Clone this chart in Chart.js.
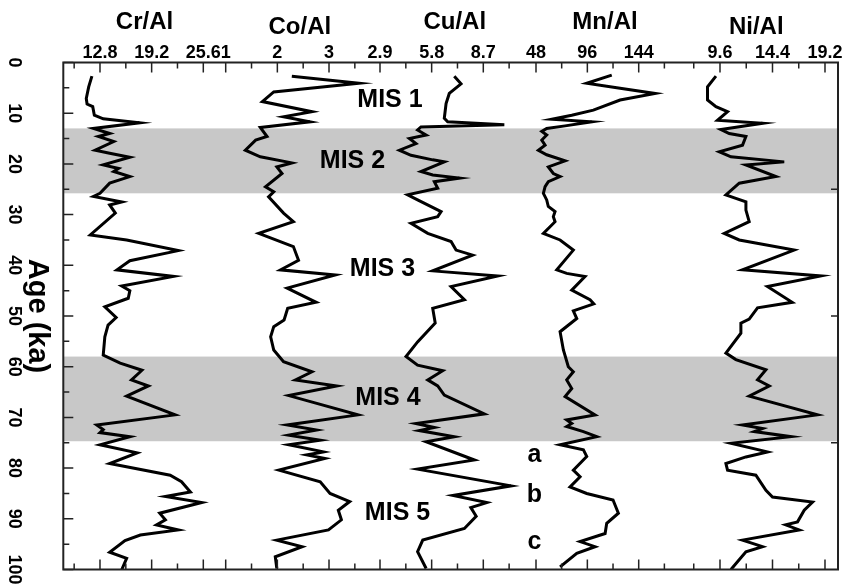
<!DOCTYPE html>
<html>
<head>
<meta charset="utf-8">
<script src="https://cdn.jsdelivr.net/npm/chart.js@4.4.1/dist/chart.umd.min.js"></script>
<style>
  html, body { margin: 0; padding: 0; background: #fff; }
  #wrap { width: 844px; height: 588px; position: relative; }
</style>
</head>
<body>
<div id="wrap"><canvas id="profileChart"></canvas></div>
<script>
const FONT = '"Liberation Sans", Arial, sans-serif';

// element ratios, one profile each
const elements = ['Cr/Al', 'Co/Al', 'Cu/Al', 'Mn/Al', 'Ni/Al'];

const crAge = [2.7, 4.8, 7.1, 8.2, 8.7, 10.4, 11.1, 11.9, 13.0, 14.0, 14.6, 15.6, 17.3, 17.9, 18.7, 20.2, 20.9, 21.5, 22.5, 23.8, 25.8, 26.4, 27.5, 28.1, 29.7, 34.0, 35.0, 37.1, 39.1, 40.9, 42.2, 44.1, 45.0, 46.5, 48.2, 50.3, 51.8, 54.1, 57.7, 59.3, 60.7, 62.6, 63.8, 65.8, 69.5, 71.5, 72.4, 73.0, 73.8, 75.4, 77.0, 79.1, 81.4, 82.7, 84.7, 85.6, 86.8, 88.9, 90.2, 91.2, 92.2, 93.2, 94.3, 96.6, 97.8, 100];
const crVal = [11.8, 11.4, 11.1, 11.2, 11.9, 12.1, 13.2, 17.7, 12.0, 14.0, 12.6, 14.5, 12.2, 14.0, 16.5, 13.2, 15.1, 14.5, 16.5, 14.0, 12.8, 12.0, 15.5, 14.0, 14.7, 11.6, 16.1, 22.5, 16.5, 14.9, 21.9, 15.5, 16.5, 16.3, 13.4, 14.8, 13.8, 13.4, 13.2, 15.3, 18.0, 16.7, 18.8, 16.1, 22.1, 12.4, 13.2, 12.8, 16.5, 12.8, 17.4, 14.0, 21.5, 22.9, 24.0, 20.9, 25.4, 20.2, 20.9, 19.8, 22.5, 17.8, 15.9, 14.0, 16.1, 15.5];

const coAge = [2.7, 4.1, 5.8, 7.7, 9.7, 10.7, 11.7, 12.8, 14.6, 15.3, 17.3, 18.6, 19.8, 20.6, 21.9, 24.5, 25.5, 26.5, 29.7, 31.4, 33.7, 36.3, 39.0, 40.9, 41.9, 44.5, 47.3, 48.5, 50.8, 52.1, 54.1, 56.7, 59.0, 61.0, 62.6, 63.8, 65.7, 69.5, 71.5, 72.5, 73.5, 74.5, 75.4, 76.8, 77.4, 78.1, 80.4, 82.7, 85.0, 86.6, 88.3, 90.2, 92.2, 94.2, 95.5, 97.5, 99.8];
const coVal = [2.28, 3.58, 1.93, 1.71, 2.67, 2.12, 2.63, 1.67, 1.80, 1.58, 1.38, 1.67, 2.28, 1.99, 2.09, 1.77, 1.93, 1.83, 2.12, 2.31, 1.64, 2.31, 2.41, 2.06, 3.12, 2.19, 2.75, 2.20, 2.13, 1.93, 1.87, 1.93, 2.12, 2.67, 2.35, 3.15, 2.22, 3.56, 2.19, 2.76, 2.22, 2.83, 2.22, 2.89, 2.57, 2.92, 2.03, 2.83, 3.02, 3.40, 3.18, 3.24, 2.99, 1.99, 2.48, 1.96, 1.99];

const cuAge = [2.7, 4.2, 6.1, 8.1, 11.0, 11.7, 12.3, 12.7, 13.3, 14.3, 15.0, 16.0, 17.3, 18.3, 19.2, 19.6, 21.5, 22.2, 22.8, 23.5, 24.8, 26.1, 27.1, 29.4, 30.4, 31.7, 33.7, 35.3, 37.0, 38.0, 41.1, 42.1, 44.2, 46.8, 48.5, 51.4, 55.1, 58.0, 59.7, 60.8, 62.6, 63.8, 65.6, 69.3, 71.2, 72.0, 72.6, 73.8, 74.8, 78.4, 80.2, 83.5, 85.4, 86.8, 87.8, 89.5, 91.9, 94.2, 96.5, 99.8];
const cuVal = [7.07, 7.45, 6.79, 6.61, 6.51, 6.70, 9.88, 5.20, 5.01, 5.49, 4.55, 4.92, 3.99, 4.64, 5.86, 6.51, 5.20, 5.86, 7.36, 5.95, 6.14, 4.45, 5.01, 6.33, 6.14, 4.64, 5.58, 6.89, 7.17, 8.10, 5.86, 9.51, 6.89, 7.64, 5.86, 6.00, 5.01, 4.36, 5.01, 6.42, 5.58, 6.14, 6.51, 8.76, 4.92, 5.95, 5.11, 7.07, 5.49, 8.20, 5.01, 10.26, 7.00, 8.90, 8.00, 8.30, 7.64, 5.30, 5.01, 5.49];

const mnAge = [2.5, 4.1, 5.1, 6.1, 7.4, 9.4, 10.4, 11.2, 11.7, 12.5, 13.0, 13.6, 14.3, 15.3, 16.3, 17.3, 18.2, 19.4, 20.6, 21.9, 22.5, 23.5, 24.5, 25.8, 27.1, 28.4, 29.4, 30.4, 31.4, 33.7, 35.0, 37.0, 40.9, 41.6, 42.2, 44.9, 46.8, 47.6, 49.0, 50.5, 53.1, 56.7, 60.0, 61.0, 62.6, 64.3, 65.9, 69.5, 70.5, 71.2, 71.8, 72.8, 73.8, 75.4, 76.4, 77.7, 80.4, 81.7, 83.7, 85.0, 86.3, 88.9, 90.9, 92.9, 94.5, 95.5, 96.8, 99.5];
const mnVal = [118.8, 95.4, 126.6, 159.3, 126.6, 101.6, 81.4, 62.7, 100.1, 75.2, 58.0, 53.4, 58.0, 53.4, 56.5, 50.2, 58.0, 75.2, 59.5, 64.2, 70.5, 59.5, 56.5, 54.9, 58.0, 59.5, 65.8, 64.2, 65.8, 54.9, 70.5, 82.9, 67.4, 76.7, 93.8, 81.4, 98.5, 102.0, 82.9, 86.1, 70.5, 73.6, 78.2, 82.9, 76.7, 81.4, 75.2, 103.2, 76.7, 81.4, 76.7, 92.3, 104.8, 70.5, 92.3, 95.4, 82.9, 89.2, 79.8, 95.4, 120.0, 125.0, 114.1, 112.6, 89.2, 103.2, 86.1, 70.5];

const niAge = [2.7, 4.8, 7.4, 8.7, 9.7, 11.4, 12.0, 13.2, 14.0, 14.6, 16.3, 17.6, 18.6, 19.6, 20.2, 22.5, 23.8, 26.1, 26.8, 27.5, 29.1, 31.4, 33.7, 35.0, 37.0, 40.9, 42.1, 44.2, 47.3, 48.4, 50.6, 51.4, 53.4, 57.3, 58.6, 60.6, 62.6, 63.8, 65.8, 69.5, 71.5, 72.2, 72.8, 73.8, 75.1, 76.8, 77.8, 79.1, 80.4, 81.4, 84.4, 85.7, 86.7, 88.3, 90.6, 91.2, 92.2, 94.2, 95.5, 96.5, 100];
const niVal = [9.23, 8.46, 8.46, 9.23, 10.29, 9.37, 13.49, 9.68, 10.44, 11.97, 11.66, 9.53, 10.60, 15.47, 11.97, 14.71, 11.36, 10.14, 11.05, 11.97, 11.97, 12.27, 9.99, 11.36, 16.38, 11.66, 18.82, 13.94, 16.20, 13.03, 12.27, 11.51, 11.51, 10.14, 11.05, 13.80, 13.03, 14.10, 12.27, 18.51, 11.66, 13.49, 12.73, 16.08, 10.60, 13.94, 11.97, 10.14, 10.29, 12.88, 13.80, 14.40, 18.06, 17.30, 16.69, 15.60, 16.84, 11.66, 13.49, 11.97, 10.60];

// tick labels
const crTicks = [12.8, 19.2, 25.6];
const coTicks = [1, 2, 3];
const cuTicks = [2.9, 5.8, 8.7];
const mnTicks = [48, 96, 144];
const niTicks = [9.6, 14.4, 19.2];
const ageTicks = [0, 10, 20, 30, 40, 50, 60, 70, 80, 90, 100];
const rightTicks = [25, 50, 75];

// glacial stages shaded (ka)
const misBands = [[13.0, 25.8], [58.0, 74.7]];
const stageLabels = ['MIS 1', 'MIS 2', 'MIS 3', 'MIS 4', 'MIS 5', 'a', 'b', 'c'];
const stageAges = [7.4, 19.4, 40.7, 66.1, 88.8, 77.4, 85.4, 94.6];

function pts(age, val) {
  return age.map((a, i) => ({x: val[i], y: a}));
}

function topAxis(title, ticks, min, max, weight, titlePad) {
  return {
    type: 'linear',
    position: 'top',
    stack: 'top',
    stackWeight: weight,
    min: min,
    max: max,
    afterBuildTicks: s => { s.ticks = ticks.map(v => ({value: v})); },
    afterFit: s => { s.height = 62.5; s.paddingLeft = 0; s.paddingRight = 0; },
    grid: {display: false, drawTicks: false},
    border: {display: false},
    ticks: {
      autoSkip: false, maxRotation: 0, padding: -1.5, color: '#000',
      font: {family: FONT, weight: 'bold', size: 18},
      callback: v => String(v)
    },
    title: {
      display: true, text: title, color: '#000',
      font: {family: FONT, weight: 'bold', size: 24},
      padding: {top: titlePad, bottom: 0}
    }
  };
}

const decorations = {
  id: 'decorations',
  beforeDatasetsDraw(chart) {
    const {ctx, chartArea: a} = chart;
    const y = chart.scales.y;
    ctx.save();
    ctx.fillStyle = '#c8c8c8';
    misBands.forEach(b => {
      const y0 = y.getPixelForValue(b[0]);
      const y1 = y.getPixelForValue(b[1]);
      ctx.fillRect(a.left, y0, a.right - a.left, y1 - y0);
    });
    ctx.restore();
  },
  afterDatasetsDraw(chart, args, opts) {
    const {ctx, chartArea: a} = chart;
    const y = chart.scales.y;
    ctx.save();
    ctx.strokeStyle = '#222';
    ctx.lineWidth = 1.5;
    ctx.beginPath();
    // top and bottom ticks, pointing into the plot
    ['xCr', 'xCo', 'xCu', 'xMn', 'xNi'].forEach(id => {
      const s = chart.scales[id];
      const major = s.ticks.map(t => t.value);
      const step = major[1] - major[0];
      const minor = [major[0] - step / 2];
      major.forEach(v => minor.push(v + step / 2));
      const mark = (v, len) => {
        const px = s.getPixelForValue(v);
        ctx.moveTo(px, a.top); ctx.lineTo(px, a.top + len);
        ctx.moveTo(px, a.bottom); ctx.lineTo(px, a.bottom - len);
      };
      major.forEach(v => mark(v, 10));
      minor.filter(v => v > s.min && v < s.max).forEach(v => mark(v, 6));
    });
    ageTicks.forEach((v, i) => {
      const py = y.getPixelForValue(v);
      ctx.moveTo(a.left, py); ctx.lineTo(a.left + 10, py);
      if (i < ageTicks.length - 1) {
        const pm = y.getPixelForValue((v + ageTicks[i + 1]) / 2);
        ctx.moveTo(a.left, pm); ctx.lineTo(a.left + 6, pm);
      }
    });
    rightTicks.forEach(v => {
      const py = y.getPixelForValue(v);
      ctx.moveTo(a.right, py); ctx.lineTo(a.right - 7, py);
    });
    ctx.stroke();
    ctx.lineWidth = 2;
    ctx.strokeRect(a.left, a.top, a.right - a.left, a.bottom - a.top);

    // stage labels
    ctx.fillStyle = '#000';
    ctx.font = 'bold 25px ' + FONT;
    ctx.textAlign = 'center';
    ctx.textBaseline = 'middle';
    stageLabels.forEach((t, i) => {
      const px = a.left + opts.labelX[i] * (a.right - a.left);
      ctx.fillText(t, px, y.getPixelForValue(stageAges[i]));
    });

    // y title, rotated to read downward
    ctx.font = 'bold 29px ' + FONT;
    ctx.translate(opts.titleX, (a.top + a.bottom) / 2);
    ctx.rotate(Math.PI / 2);
    ctx.fillText('Age (ka)', 0, 0);
    ctx.restore();
  }
};

const ctx = document.getElementById('profileChart').getContext('2d');
const line = {borderColor: '#000', borderWidth: 3, pointRadius: 0, fill: false, tension: 0};

new Chart(ctx, {
  type: 'line',
  data: {
    datasets: [
      Object.assign({label: elements[0], data: pts(crAge, crVal), xAxisID: 'xCr', yAxisID: 'y'}, line),
      Object.assign({label: elements[1], data: pts(coAge, coVal), xAxisID: 'xCo', yAxisID: 'y'}, line),
      Object.assign({label: elements[2], data: pts(cuAge, cuVal), xAxisID: 'xCu', yAxisID: 'y'}, line),
      Object.assign({label: elements[3], data: pts(mnAge, mnVal), xAxisID: 'xMn', yAxisID: 'y'}, line),
      Object.assign({label: elements[4], data: pts(niAge, niVal), xAxisID: 'xNi', yAxisID: 'y'}, line)
    ]
  },
  options: {
    indexAxis: 'y',
    responsive: true,
    maintainAspectRatio: false,
    animation: false,
    layout: {padding: {left: 0, top: 0, right: 6, bottom: 18.5}},
    plugins: {
      legend: {display: false},
      tooltip: {enabled: false},
      decorations: {
        labelX: [0.4217, 0.3733, 0.412, 0.4191, 0.4314, 0.6082, 0.6082, 0.6082],
        titleX: 37
      }
    },
    // top axes are laid out right to left, so Ni comes first
    scales: {
      xNi: topAxis(elements[4], niTicks, 5.44, 20.389, 163.5, 12.5),
      xMn: topAxis(elements[3], mnTicks, 47.53, 177.46, 139, 7.5),
      xCu: topAxis(elements[2], cuTicks, 2.563, 11.631, 161.5, 7.5),
      xCo: topAxis(elements[1], coTicks, 1, 3.871, 148.3, 12.5),
      xCr: topAxis(elements[0], crTicks, 8.254, 28.375, 162.4, 7.5),
      y: {
        type: 'linear',
        position: 'left',
        reverse: true,
        min: 0,
        max: 100,
        afterBuildTicks: s => { s.ticks = ageTicks.map(v => ({value: v})); },
        afterFit: s => { s.width = 63.3; s.paddingTop = 0; s.paddingBottom = 0; },
        grid: {display: false, drawTicks: false},
        border: {display: false},
        ticks: {
          minRotation: -90, maxRotation: -90, crossAlign: 'center', padding: 34,
          color: '#000', font: {family: FONT, weight: 'bold', size: 18}
        }
      }
    }
  },
  plugins: [decorations]
});
</script>
</body>
</html>
